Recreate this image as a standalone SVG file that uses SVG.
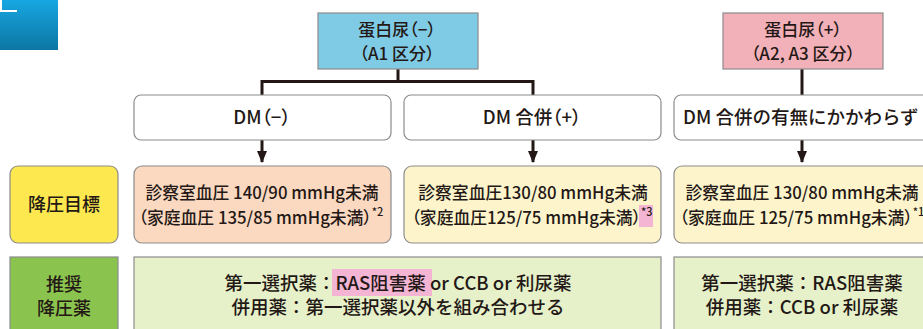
<svg xmlns="http://www.w3.org/2000/svg" width="923" height="329" viewBox="0 0 923 329">
<defs>
<linearGradient id="gBlue" x1="0" y1="0" x2="0" y2="1">
<stop offset="0" stop-color="#17a7e2"/>
<stop offset="1" stop-color="#0c76a3"/>
</linearGradient>
<marker id="arr" viewBox="0 0 12 10" refX="11" refY="5" markerWidth="12" markerHeight="10" markerUnits="userSpaceOnUse" orient="auto">
<path d="M0,0 L12,5 L0,10 Z" fill="#231815"/>
</marker>
<style>
.t{font-family:"Noto Sans CJK JP","Noto Sans",sans-serif;fill:#231815;font-size:16.8px;font-weight:500;text-anchor:middle}
.p{font-feature-settings:"palt"}
.dm{font-size:18.5px}
.top{font-size:17px}
.lab{font-size:18px}
.drug{font-size:18.5px}
.sup{font-size:11px}
.box{stroke:#8c8c8c;stroke-width:1.2}
.line{fill:none;stroke:#231815;stroke-width:3}
.arrow{fill:none;stroke:#231815;stroke-width:3;marker-end:url(#arr)}
.hl{fill:#f4b4d3}
</style>
</defs>
<rect width="923" height="329" fill="#ffffff"/>
<g id="corner">
<rect x="0" y="0" width="58" height="50" fill="url(#gBlue)"/>
<path d="M1,0 V11 H17" fill="none" stroke="#ffffff" stroke-width="2"/>
</g>

<g id="connectors">
<path class="line" d="M398,69 V81.5 M262,95 V81.5 H533 V95"/>
<path class="line" d="M802,69 V95"/>
<path class="arrow" d="M262,140 V162"/>
<path class="arrow" d="M533,140 V162"/>
<path class="arrow" d="M802,140 V162"/>
</g>

<g id="proteinuria-neg">
<rect class="box" x="318" y="13" width="160" height="56" fill="#7fcbe6"/>
<text class="t p top" x="397" y="36">蛋白尿（−）</text>
<text class="t p top" x="397" y="60">（A1 区分）</text>
</g>
<g id="proteinuria-pos">
<rect class="box" x="723" y="13" width="160" height="56" fill="#f2b0b8"/>
<text class="t p top" x="803" y="36">蛋白尿（+）</text>
<text class="t p top" x="803" y="60">（A2, A3 区分）</text>
</g>

<g id="dm-neg">
<rect class="box" x="134" y="95" width="257" height="45" rx="7" fill="#ffffff"/>
<text class="t p dm" x="262" y="124">DM（−）</text>
</g>
<g id="dm-pos">
<rect class="box" x="404" y="95" width="257" height="45" rx="7" fill="#ffffff"/>
<text class="t p dm" x="532" y="124">DM 合併（+）</text>
</g>
<g id="dm-any">
<rect class="box" x="674" y="95" width="260" height="45" rx="7" fill="#ffffff"/>
<text class="t dm" x="683" y="124" style="text-anchor:start">DM 合併の有無にかかわらず</text>
</g>

<g id="label-target">
<rect class="box" x="10" y="166" width="108" height="77" rx="8" fill="#fde94f"/>
<text class="t lab" x="64" y="211">降圧目標</text>
</g>
<g id="target-dm-neg">
<rect class="box" x="134" y="166" width="257" height="77" rx="8" fill="#fbd9c1"/>
<text class="t" x="262" y="199">診察室血圧 140/90 mmHg未満</text>
<text class="t p" x="261" y="224">（家庭血圧 135/85 mmHg未満）<tspan class="sup" dy="-8">*2</tspan></text>
</g>
<g id="target-dm-pos">
<rect class="box" x="404" y="166" width="257" height="77" rx="8" fill="#fdf4cc"/>
<rect class="hl" x="639" y="205" width="14" height="22"/>
<text class="t" x="533" y="199">診察室血圧130/80 mmHg未満</text>
<text class="t p" x="532" y="224">（家庭血圧125/75 mmHg未満）<tspan class="sup" dy="-8">*3</tspan></text>
</g>
<g id="target-any">
<rect class="box" x="674" y="166" width="260" height="77" rx="8" fill="#fdf4cc"/>
<text class="t" x="802" y="199">診察室血圧 130/80 mmHg未満</text>
<text class="t p" x="802" y="224">（家庭血圧 125/75 mmHg未満）<tspan class="sup" dy="-8">*1</tspan></text>
</g>

<g id="label-drug">
<rect class="box" x="10" y="257" width="108" height="80" fill="#8bc34f"/>
<text class="t lab" x="64" y="291">推奨</text>
<text class="t lab" x="64" y="315">降圧薬</text>
</g>
<g id="drug-neg">
<rect class="box" x="134" y="257" width="527" height="80" fill="#e6f0c9"/>
<rect class="hl" x="332" y="269" width="100" height="27"/>
<text class="t drug" x="398" y="290">第一選択薬：RAS阻害薬 or CCB or 利尿薬</text>
<text class="t drug" x="398" y="314">併用薬：第一選択薬以外を組み合わせる</text>
</g>
<g id="drug-pos">
<rect class="box" x="674" y="257" width="260" height="80" fill="#e6f0c9"/>
<text class="t drug" x="802" y="290">第一選択薬：RAS阻害薬</text>
<text class="t drug" x="802" y="314">併用薬：CCB or 利尿薬</text>
</g>
</svg>
